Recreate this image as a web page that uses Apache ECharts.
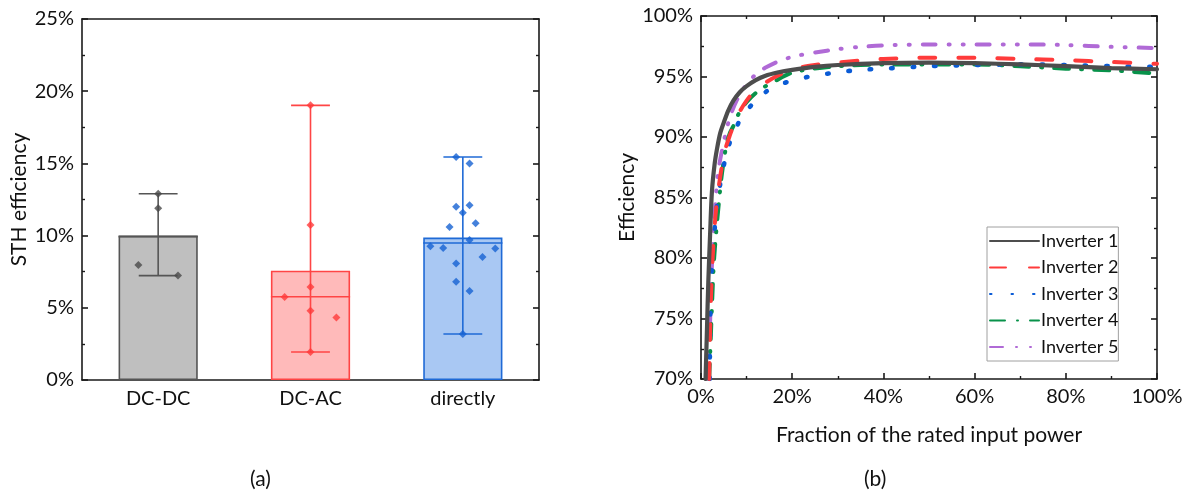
<!DOCTYPE html>
<html>
<head>
<meta charset="utf-8">
<script src="https://cdn.jsdelivr.net/npm/echarts@6/dist/echarts.min.js"></script>
<style>
html,body{margin:0;padding:0;background:#fff;}
#main{width:1189px;height:495px;}
</style>
</head>
<body>
<div id="main"></div>
<script>
// ---------- Panel (a) data ----------
const categories = ['DC-DC', 'DC-AC', 'directly'];
const barMeans = [10.0, 7.57, 9.86];
const barMedians = [9.93, 5.77, 9.49];
const errLow = [7.23, 1.94, 3.19];
const errHigh = [12.9, 19.02, 15.44];
const dcdcValues = [12.9, 11.9, 7.96, 7.23];
const dcdcJitter = [0, 0, -0.13, 0.13];
const dcacValues = [19.02, 10.73, 6.44, 5.75, 4.8, 4.32, 1.94];
const dcacJitter = [0, 0, 0, -0.17, 0, 0.17, 0];
const directValues = [15.44, 15.0, 12.0, 12.1, 11.59, 10.6, 10.85, 9.7, 9.26, 9.14, 9.1, 8.52, 8.06, 6.81, 6.16, 3.19];
const directJitter = [-0.044, 0.044, -0.044, 0.044, 0, -0.087, 0.084, 0.044, -0.213, -0.129, 0.213, 0.129, -0.044, -0.044, 0.044, 0];
const leftTicks = [0, 5, 10, 15, 20, 25];

// ---------- Panel (b) data ----------
const rightXTicks = [0, 20, 40, 60, 80, 100];
const rightYTicks = [70, 75, 80, 85, 90, 95, 100];
const inverterNames = ['Inverter 1', 'Inverter 2', 'Inverter 3', 'Inverter 4', 'Inverter 5'];
const inv1 = [[1.0,70],[1.3,74],[1.6,78],[2.0,82],[2.4,85.5],[3.0,87.8],[3.5,89],[4.2,90.3],[5,91.2],[6,92.2],[7.1,93],[8.5,93.7],[10,94.2],[12,94.7],[14,95.05],[17,95.35],[20,95.55],[25,95.8],[30,95.95],[40,96.1],[50,96.15],[60,96.1],[70,96.0],[80,95.85],[90,95.7],[100,95.6]];
const inv2 = [[1.8,70],[2.0,74],[2.3,78],[2.7,81],[3.3,84],[4.2,86.7],[5.2,88.8],[6.2,90],[7.1,90.9],[8.5,92.1],[10,93],[11.5,93.7],[14.4,94.55],[17,95.1],[20,95.6],[25,95.95],[30,96.15],[40,96.45],[50,96.55],[60,96.55],[70,96.45],[80,96.35],[90,96.2],[100,96.05]];
const inv3 = [[1.9,70],[2.0,74],[2.2,78],[2.7,81],[3.4,84],[4.3,86.3],[5.2,88],[6,89.2],[6.9,90.1],[7.8,90.85],[9,91.7],[10.4,92.35],[12,93],[14.3,93.75],[16.5,94.2],[19,94.55],[23.9,95.0],[29,95.3],[35,95.55],[40,95.65],[50,95.85],[60,95.95],[70,96.0],[80,95.95],[90,95.85],[100,95.8]];
const inv4 = [[1.8,70],[2.1,73],[2.4,76],[2.8,79.5],[3.3,82],[3.9,84.5],[4.6,87],[5.6,89.4],[6.3,90.3],[7.1,90.9],[8.5,92.1],[10.4,93.05],[12.9,93.9],[16.6,94.7],[19.5,95.25],[22,95.5],[26,95.7],[30,95.85],[40,96.0],[50,96.0],[60,96.0],[70,95.85],[80,95.65],[90,95.5],[100,95.25]];
const inv5 = [[1.6,70],[1.8,72.3],[2.1,76],[2.35,79],[2.7,81.7],[3.3,85.3],[3.8,87.2],[4.5,88.7],[5.4,90.3],[6.4,91.7],[7.8,93.0],[9.5,94.1],[12.2,95.25],[14.5,95.8],[17.3,96.3],[20.8,96.7],[25.4,97.0],[29.8,97.25],[35,97.45],[40,97.57],[50,97.65],[60,97.65],[70,97.65],[80,97.6],[90,97.45],[100,97.35]];

// ---------- styles ----------
const FONT = 'Lato';
const barFill = ['#bfbfbf', '#ffbaba', '#a9c8f3'];
const barEdge = ['#555555', '#ff4545', '#1f6ad6'];
const pointColor = ['#4a4a4a', '#ff3a3a', '#1562d2'];
const invColors = ['#4d4d4d', '#ff3b3b', '#0a5bd6', '#08924a', '#b06ad6'];
const invDash = ['solid', [16, 23], [1.5, 20], [15, 12, 1, 12], [13, 13, 1, 13, 1, 13]];
const invWidth = [4.2, 4, 4.6, 4, 4];

const chart = echarts.init(document.getElementById('main'), null, {renderer: 'canvas'});

const axisLineStyle = {color: '#1a1a1a', width: 1.6};
const labelStyle = {fontFamily: FONT, fontSize: 20, color: '#111'};
const minorStyle = {show: true, splitNumber: 2, length: 3, lineStyle: {color: '#1a1a1a', width: 1.4}};

function pctFmt(v) { return v + '%'; }

function buildPoints(values, jitter, ci) {
  return values.map((v, i) => [ci + jitter[i], v]);
}

const option = {
  animation: false,
  textStyle: {fontFamily: FONT},
  grid: [
    {left: 82, top: 19, width: 457, height: 361},
    {left: 701, top: 16, width: 456, height: 363}
  ],
  legend: {
    data: inverterNames,
    orient: 'vertical',
    left: 987,
    top: 227,
    padding: [5, 0, 5, 2],
    itemGap: 8.5,
    itemWidth: 49,
    itemHeight: 14,
    backgroundColor: '#fff',
    borderColor: '#a0a0a0',
    borderWidth: 1,
    borderRadius: 0,
    itemStyle: {opacity: 0, borderWidth: 0},
    textStyle: {fontFamily: FONT, fontSize: 18, color: '#111', padding: [0, 0, 0, -3]}
  },
  xAxis: [
    { // 0: left categories bottom
      type: 'category', gridIndex: 0, data: categories, position: 'bottom',
      boundaryGap: true,
      axisLine: {onZero: false, lineStyle: axisLineStyle},
      axisTick: {inside: true, alignWithLabel: true, length: 5, lineStyle: axisLineStyle},
      axisLabel: Object.assign({margin: 9}, labelStyle),
      splitLine: {show: false}
    },
    { // 1: left mirror top
      type: 'category', gridIndex: 0, data: categories, position: 'top',
      boundaryGap: true,
      axisLine: {onZero: false, lineStyle: axisLineStyle},
      axisTick: {inside: true, alignWithLabel: true, length: 5, lineStyle: axisLineStyle},
      axisLabel: {show: false}, splitLine: {show: false}
    },
    { // 2: hidden value axis for jittered points
      type: 'value', gridIndex: 0, min: -0.5, max: 2.5, show: false,
      splitLine: {show: false}, axisTick: {show: false}, axisLine: {show: false, onZero: false}
    },
    { // 3: right bottom
      type: 'value', gridIndex: 1, min: 0, max: 100, interval: 20, position: 'bottom',
      name: 'Fraction of the rated input power', nameLocation: 'middle', nameGap: 46,
      nameTextStyle: {fontFamily: FONT, fontSize: 21, color: '#111'},
      axisLine: {onZero: false, lineStyle: axisLineStyle},
      axisTick: {inside: true, length: 6, lineStyle: axisLineStyle},
      minorTick: minorStyle,
      axisLabel: Object.assign({margin: 8, formatter: pctFmt}, labelStyle),
      splitLine: {show: false}
    },
    { // 4: right top mirror
      type: 'value', gridIndex: 1, min: 0, max: 100, interval: 20, position: 'top',
      axisLine: {onZero: false, lineStyle: axisLineStyle},
      axisTick: {inside: true, length: 6, lineStyle: axisLineStyle},
      minorTick: minorStyle,
      axisLabel: {show: false}, splitLine: {show: false}
    }
  ],
  yAxis: [
    { // 0 left
      type: 'value', gridIndex: 0, min: 0, max: 25, interval: 5, position: 'left',
      name: 'STH efficiency', nameLocation: 'middle', nameGap: 52,
      nameTextStyle: {fontFamily: FONT, fontSize: 21, color: '#111'},
      axisLine: {show: true, onZero: false, lineStyle: axisLineStyle},
      axisTick: {show: true, inside: true, length: 6, lineStyle: axisLineStyle},
      minorTick: minorStyle,
      axisLabel: Object.assign({margin: 8, formatter: pctFmt}, labelStyle),
      splitLine: {show: false}
    },
    { // 1 left mirror right
      type: 'value', gridIndex: 0, min: 0, max: 25, interval: 5, position: 'right',
      axisLine: {show: true, onZero: false, lineStyle: axisLineStyle},
      axisTick: {show: true, inside: true, length: 6, lineStyle: axisLineStyle},
      minorTick: minorStyle,
      axisLabel: {show: false}, splitLine: {show: false}
    },
    { // 2 right panel left
      type: 'value', gridIndex: 1, min: 70, max: 100, interval: 5, position: 'left',
      name: 'Efficiency', nameLocation: 'middle', nameGap: 63,
      nameTextStyle: {fontFamily: FONT, fontSize: 21, color: '#111'},
      axisLine: {show: true, onZero: false, lineStyle: axisLineStyle},
      axisTick: {show: true, inside: true, length: 6, lineStyle: axisLineStyle},
      minorTick: minorStyle,
      axisLabel: Object.assign({margin: 8, formatter: pctFmt}, labelStyle),
      splitLine: {show: false}
    },
    { // 3 right panel mirror
      type: 'value', gridIndex: 1, min: 70, max: 100, interval: 5, position: 'right',
      axisLine: {show: true, onZero: false, lineStyle: axisLineStyle},
      axisTick: {show: true, inside: true, length: 6, lineStyle: axisLineStyle},
      minorTick: minorStyle,
      axisLabel: {show: false}, splitLine: {show: false}
    }
  ],
  graphic: [
    {type: 'text', left: 250, top: 469, style: {text: '(a)', fontFamily: FONT, fontSize: 21, fill: '#111'}},
    {type: 'text', left: 864, top: 469, style: {text: '(b)', fontFamily: FONT, fontSize: 21, fill: '#111'}}
  ],
  series: []
};

// bars (means)
option.series.push({
  type: 'bar', xAxisIndex: 0, yAxisIndex: 0, barWidth: '52%', z: 2,
  data: barMeans.map((v, i) => ({
    value: v,
    itemStyle: {color: barFill[i], borderColor: barEdge[i], borderWidth: 1.6}
  }))
});

// medians + error bars (range)
option.series.push({
  type: 'custom', xAxisIndex: 0, yAxisIndex: 0, z: 3,
  encode: {x: 0, y: [1, 2, 3]},
  data: categories.map((c, i) => [i, errLow[i], errHigh[i], barMedians[i]]),
  renderItem: function (params, api) {
    const idx = params.dataIndex;
    const top = api.coord([idx, api.value(2)]);
    const bot = api.coord([idx, api.value(1)]);
    const med = api.coord([idx, api.value(3)]);
    const cw = api.size([1, 0])[0];
    const capHalf = cw * 0.255 / 2;
    const barHalf = cw * 0.52 / 2;
    const col = barEdge[idx];
    const ls = {stroke: col, lineWidth: 1.6, fill: null};
    return {
      type: 'group',
      children: [
        {type: 'polyline', shape: {points: [[med[0] - barHalf, med[1]], [med[0] + barHalf, med[1]]]}, style: ls},
        {type: 'polyline', shape: {points: [[top[0], top[1]], [bot[0], bot[1]]]}, style: ls},
        {type: 'polyline', shape: {points: [[top[0] - capHalf, top[1]], [top[0] + capHalf, top[1]]]}, style: ls},
        {type: 'polyline', shape: {points: [[bot[0] - capHalf, bot[1]], [bot[0] + capHalf, bot[1]]]}, style: ls}
      ]
    };
  }
});

// jittered data points
[[dcdcValues, dcdcJitter], [dcacValues, dcacJitter], [directValues, directJitter]].forEach((pair, ci) => {
  option.series.push({
    type: 'scatter', xAxisIndex: 2, yAxisIndex: 0, z: 4,
    symbol: 'diamond', symbolSize: 8,
    itemStyle: {color: pointColor[ci]},
    data: buildPoints(pair[0], pair[1], ci)
  });
});

// inverter curves
[inv1, inv2, inv3, inv4, inv5].forEach((d, i) => {
  option.series.push({
    type: 'line', name: inverterNames[i], xAxisIndex: 3, yAxisIndex: 2,
    data: d, showSymbol: false, symbol: 'none', smooth: 0.3, clip: true,
    z: 10 - i,
    itemStyle: {color: invColors[i]},
    lineStyle: {color: invColors[i], width: invWidth[i], type: invDash[i], cap: 'round'}
  });
});

chart.setOption(option);
</script>
</body>
</html>
